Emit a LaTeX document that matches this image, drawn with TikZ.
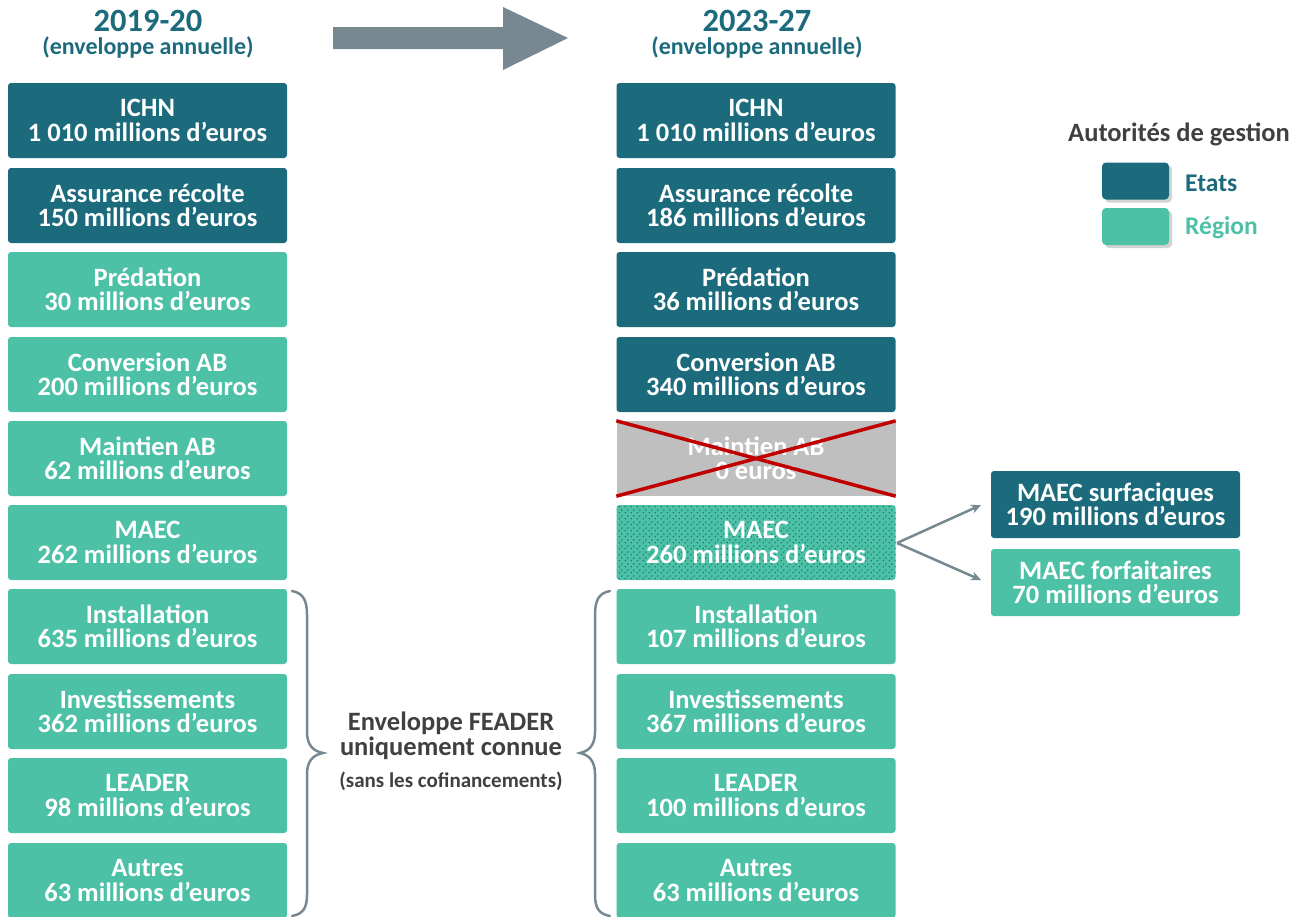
\documentclass[tikz,border=0pt]{standalone}
\usepackage{fontspec}
\setmainfont{Carlito}
\usetikzlibrary{patterns.meta,shadows,arrows.meta}
\definecolor{dteal}{HTML}{1B6B7C}
\definecolor{lteal}{HTML}{4DC1A6}
\definecolor{agray}{HTML}{778891}
\definecolor{bgray}{HTML}{BFBFBF}
\definecolor{xred}{HTML}{C00000}
\definecolor{tgray}{HTML}{404040}
\tikzdeclarepattern{name=mydots, type=uncolored,
  bounding box={(0pt,0pt) and (6pt,6pt)}, tile size={(6pt,6pt)},
  code={\fill (1.5pt,1.5pt) circle (0.9pt); \fill (4.5pt,4.5pt) circle (0.9pt);}}
\tikzset{
  box/.style={rounded corners=3pt, minimum width=279pt, minimum height=75pt,
    inner sep=0pt, align=center, text=white,
    font=\bfseries\fontsize{26.5}{24.5}\selectfont},
  etat/.style={box, fill=dteal},
  region/.style={box, fill=lteal},
  side/.style={box, minimum width=249pt, minimum height=67pt},
  headtitle/.style={text=dteal, inner sep=0pt, font=\bfseries\fontsize{32.5}{32}\selectfont},
  headsub/.style={text=dteal, inner sep=0pt, font=\bfseries\fontsize{24}{24}\selectfont},
  midtext/.style={text=tgray, inner sep=0pt, font=\bfseries\fontsize{26.5}{26}\selectfont},
  legbox/.style={rounded corners=4pt, minimum width=67pt, minimum height=37pt,
    inner sep=0pt, drop shadow={opacity=0.35, shadow xshift=3pt, shadow yshift=-3pt}},
  legtext/.style={anchor=west, inner sep=0pt, font=\bfseries\fontsize{25.5}{26}\selectfont},
  conn/.style={draw=agray, line width=2.5pt, -{Stealth[length=10pt,width=9pt]}},
  bracestyle/.style={draw=agray, line width=2.5pt, line cap=round},
}
\begin{document}
\begin{tikzpicture}[x=1pt,y=-1pt]
\useasboundingbox (0,0) rectangle (1304,916);
% headers
\node[headtitle] (h1) at (148,21) {2019-20};
\node[headsub] (h1s) at (148,47.5) {(enveloppe annuelle)};
\node[headtitle] (h2) at (757,21) {2023-27};
\node[headsub] (h2s) at (757,47.5) {(enveloppe annuelle)};
% big arrow
\fill[agray] (333,27) -- (503,27) -- (503,7) -- (568,38) -- (503,70) -- (503,49) -- (333,49) -- cycle;
% left column
\node[etat]   (l1)  at (147.5,120.5) {ICHN\\1 010 millions d’euros};
\node[etat]   (l2)  at (147.5,205.5) {Assurance récolte\\150 millions d’euros};
\node[region] (l3)  at (147.5,289.5) {Prédation\\30 millions d’euros};
\node[region] (l4)  at (147.5,374.5) {Conversion AB\\200 millions d’euros};
\node[region] (l5)  at (147.5,458.5) {Maintien AB\\62 millions d’euros};
\node[region] (l6)  at (147.5,542.5) {MAEC\\262 millions d’euros};
\node[region] (l7)  at (147.5,626.5) {Installation\\635 millions d’euros};
\node[region] (l8)  at (147.5,711.5) {Investissements\\362 millions d’euros};
\node[region] (l9)  at (147.5,795.5) {LEADER\\98 millions d’euros};
\node[region] (l10) at (147.5,880.5) {Autres\\63 millions d’euros};
% right column
\node[etat]   (r1)  at (756,120.5) {ICHN\\1 010 millions d’euros};
\node[etat]   (r2)  at (756,205.5) {Assurance récolte\\186 millions d’euros};
\node[etat]   (r3)  at (756,289.5) {Prédation\\36 millions d’euros};
\node[etat]   (r4)  at (756,374.5) {Conversion AB\\340 millions d’euros};
\node[box, fill=bgray, rounded corners=0pt] (r5) at (756,458.5) {Maintien AB\\0 euros};
\draw[xred, line width=3.5pt] (r5.north west) -- (r5.south east);
\draw[xred, line width=3.5pt] (r5.north east) -- (r5.south west);
\node[region, pattern={mydots}, pattern color=dteal, preaction={fill=lteal}] (r6) at (756,542.5) {MAEC\\260 millions d’euros};
\node[region] (r7)  at (756,626.5) {Installation\\107 millions d’euros};
\node[region] (r8)  at (756,711.5) {Investissements\\367 millions d’euros};
\node[region] (r9)  at (756,795.5) {LEADER\\100 millions d’euros};
\node[region] (r10) at (756,880.5) {Autres\\63 millions d’euros};
% MAEC split
\node[side, fill=dteal] (s1) at (1115.5,504.5) {MAEC surfaciques\\190 millions d’euros};
\node[side, fill=lteal] (s2) at (1115.5,582.5) {MAEC forfaitaires\\70 millions d’euros};
\coordinate (split) at (897,543);
\coordinate (e1) at (981,505);
\coordinate (e2) at (981,580);
\draw[conn] (split) -- (e1);
\draw[conn] (split) -- (e2);
% braces
\draw[bracestyle] (292,591) .. controls (303,593) and (307,600) .. (307,615)
  -- (307,732) .. controls (307,745) and (313,751) .. (323,753)
  .. controls (313,755) and (307,761) .. (307,774)
  -- (307,895) .. controls (307,908) and (303,914) .. (292,916);
\draw[bracestyle] (610,591) .. controls (599,593) and (595,600) .. (595,615)
  -- (595,732) .. controls (595,745) and (589,751) .. (580,753)
  .. controls (589,755) and (595,761) .. (595,774)
  -- (595,895) .. controls (595,908) and (599,914) .. (610,916);
% center text
\node[midtext] (fe1) at (451,723) {Enveloppe FEADER};
\node[midtext] (fe2) at (451,748) {uniquement connue};
\node[text=tgray, inner sep=0pt, font=\bfseries\fontsize{21}{22}\selectfont] (fe3) at (451,781) {(sans les cofinancements)};
% legend
\node[text=tgray, inner sep=0pt, font=\bfseries\fontsize{26.5}{26}\selectfont] (legt) at (1179,134) {Autorités de gestion};
\node[legbox, fill=dteal] (lg1) at (1135.5,181) {};
\node[legbox, fill=lteal] (lg2) at (1135.5,226.5) {};
\node[legtext, text=dteal] (lgt1) at (1185,183) {Etats};
\node[legtext, text=lteal] (lgt2) at (1185,228) {Région};
\end{tikzpicture}
\end{document}
